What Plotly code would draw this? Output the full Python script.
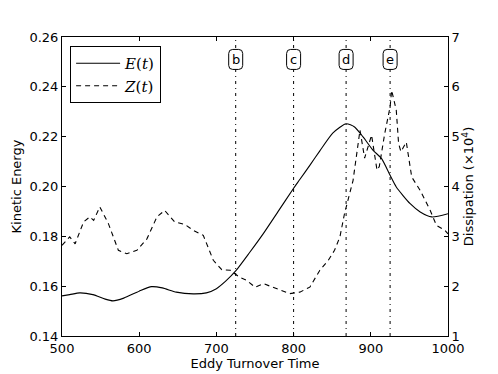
import plotly.graph_objects as go

# E(t): kinetic energy (left axis)
e_time = [500, 510, 523, 540, 556, 566, 580, 600, 616, 630, 648, 670, 687, 700, 712, 725,
          743, 761, 780, 800, 808, 821, 834, 851, 868, 879, 890, 903, 914, 925, 933, 951,
          964, 979, 1000]
e_vals = [0.1561, 0.1566, 0.1573, 0.1566, 0.1548, 0.1541, 0.1552, 0.1580, 0.1598, 0.1593,
          0.1576, 0.1569, 0.1573, 0.1590, 0.1620, 0.1661, 0.1735, 0.1812, 0.1900, 0.1993,
          0.2028, 0.2085, 0.2143, 0.2215, 0.2252, 0.2239, 0.2199, 0.2145, 0.2112, 0.2045,
          0.1998, 0.1931, 0.1898, 0.1878, 0.1891]

# Z(t): dissipation (right axis, x10^4)
z_time = [500, 510, 517, 528, 536, 541, 549, 560, 573, 584, 597, 610, 623, 633, 646, 659,
          670, 683, 696, 707, 718, 730, 739, 750, 761, 766, 782, 795, 808, 821, 834, 845,
          853, 860, 866, 873, 877, 886, 892, 901, 908, 911, 918, 925, 927, 933, 936, 939,
          946, 953, 964, 977, 985, 996, 1000]
z_vals = [2.82, 2.99, 2.85, 3.29, 3.39, 3.32, 3.59, 3.26, 2.72, 2.65, 2.72, 2.95, 3.39, 3.52,
          3.29, 3.24, 3.12, 3.02, 2.52, 2.33, 2.32, 2.18, 2.12, 1.98, 2.05, 2.02, 1.92, 1.85,
          1.88, 1.98, 2.32, 2.52, 2.72, 2.99, 3.46, 3.92, 4.12, 5.13, 4.57, 5.03, 4.33, 4.40,
          5.06, 5.60, 5.93, 5.53, 4.86, 4.70, 4.89, 4.19, 3.92, 3.52, 3.22, 3.12, 3.05]

event_times = [725, 800, 868, 925]
event_labels = ["b", "c", "d", "e"]

x_ticks = [500, 600, 700, 800, 900, 1000]
ke_ticks = [0.14, 0.16, 0.18, 0.20, 0.22, 0.24, 0.26]
diss_ticks = [1, 2, 3, 4, 5, 6, 7]

fig = go.Figure()
fig.add_trace(go.Scatter(x=e_time, y=e_vals, mode="lines", name="<i>E</i>(<i>t</i>)",
                         line=dict(color="black", width=1.1, shape="spline", smoothing=0.6)))
fig.add_trace(go.Scatter(x=z_time, y=z_vals, mode="lines", name="<i>Z</i>(<i>t</i>)",
                         yaxis="y2",
                         line=dict(color="black", width=1.1, dash="5px,4px")))

box_y = 0.925
rr = "M -3,-10 L 3,-10 Q 7,-10 7,-6 L 7,6 Q 7,10 3,10 L -3,10 Q -7,10 -7,6 L -7,-6 Q -7,-10 -3,-10 Z"
for t, lab in zip(event_times, event_labels):
    fig.add_shape(type="line", xref="x", yref="paper", x0=t, x1=t, y0=0, y1=1,
                  line=dict(color="black", width=1, dash="3px,4px,1px,4px"))
    fig.add_shape(type="path", xref="x", yref="paper", xsizemode="pixel", ysizemode="pixel",
                  xanchor=t, yanchor=box_y, path=rr,
                  fillcolor="white", line=dict(color="black", width=1))
    fig.add_annotation(x=t, y=box_y, xref="x", yref="paper", text=lab, showarrow=False,
                       font=dict(family="DejaVu Sans", size=13, color="black"),
                       xanchor="center", yanchor="middle")

axis_common = dict(showline=True, linecolor="black", linewidth=1, ticks="inside", ticklen=4,
                   tickcolor="black", showgrid=False, zeroline=False, automargin=False,
                   tickfont=dict(family="DejaVu Sans", size=13, color="black"))

# page body has an 8px default margin; figure is sized to fit the 498x374 window
fig.update_layout(
    width=490, height=366,
    margin=dict(l=54, r=50, t=29, b=38, autoexpand=False),
    paper_bgcolor="white", plot_bgcolor="white",
    font=dict(family="DejaVu Sans", size=13, color="black"),
    showlegend=True,
    legend=dict(x=0.021, y=0.97, xanchor="left", yanchor="top",
                bordercolor="black", borderwidth=1, bgcolor="white",
                font=dict(family="DejaVu Serif", size=15, color="black"),
                itemwidth=44, tracegroupgap=0),
    xaxis=dict(range=[500, 1000], tickvals=x_ticks, mirror="ticks",
               title=dict(text="Eddy Turnover Time", standoff=2,
                          font=dict(family="DejaVu Sans", size=13)),
               **axis_common),
    yaxis=dict(range=[0.14, 0.26], tickvals=ke_ticks, tickformat=".2f",
               title=dict(text="Kinetic Energy", standoff=4,
                          font=dict(family="DejaVu Sans", size=13)),
               **axis_common),
    yaxis2=dict(range=[1, 7], tickvals=diss_ticks, overlaying="y", side="right",
                title=dict(text="Dissipation (×10<sup>4</sup>)", standoff=4,
                           font=dict(family="DejaVu Sans", size=13)),
                **axis_common),
)

fig.write_html("out.html")
